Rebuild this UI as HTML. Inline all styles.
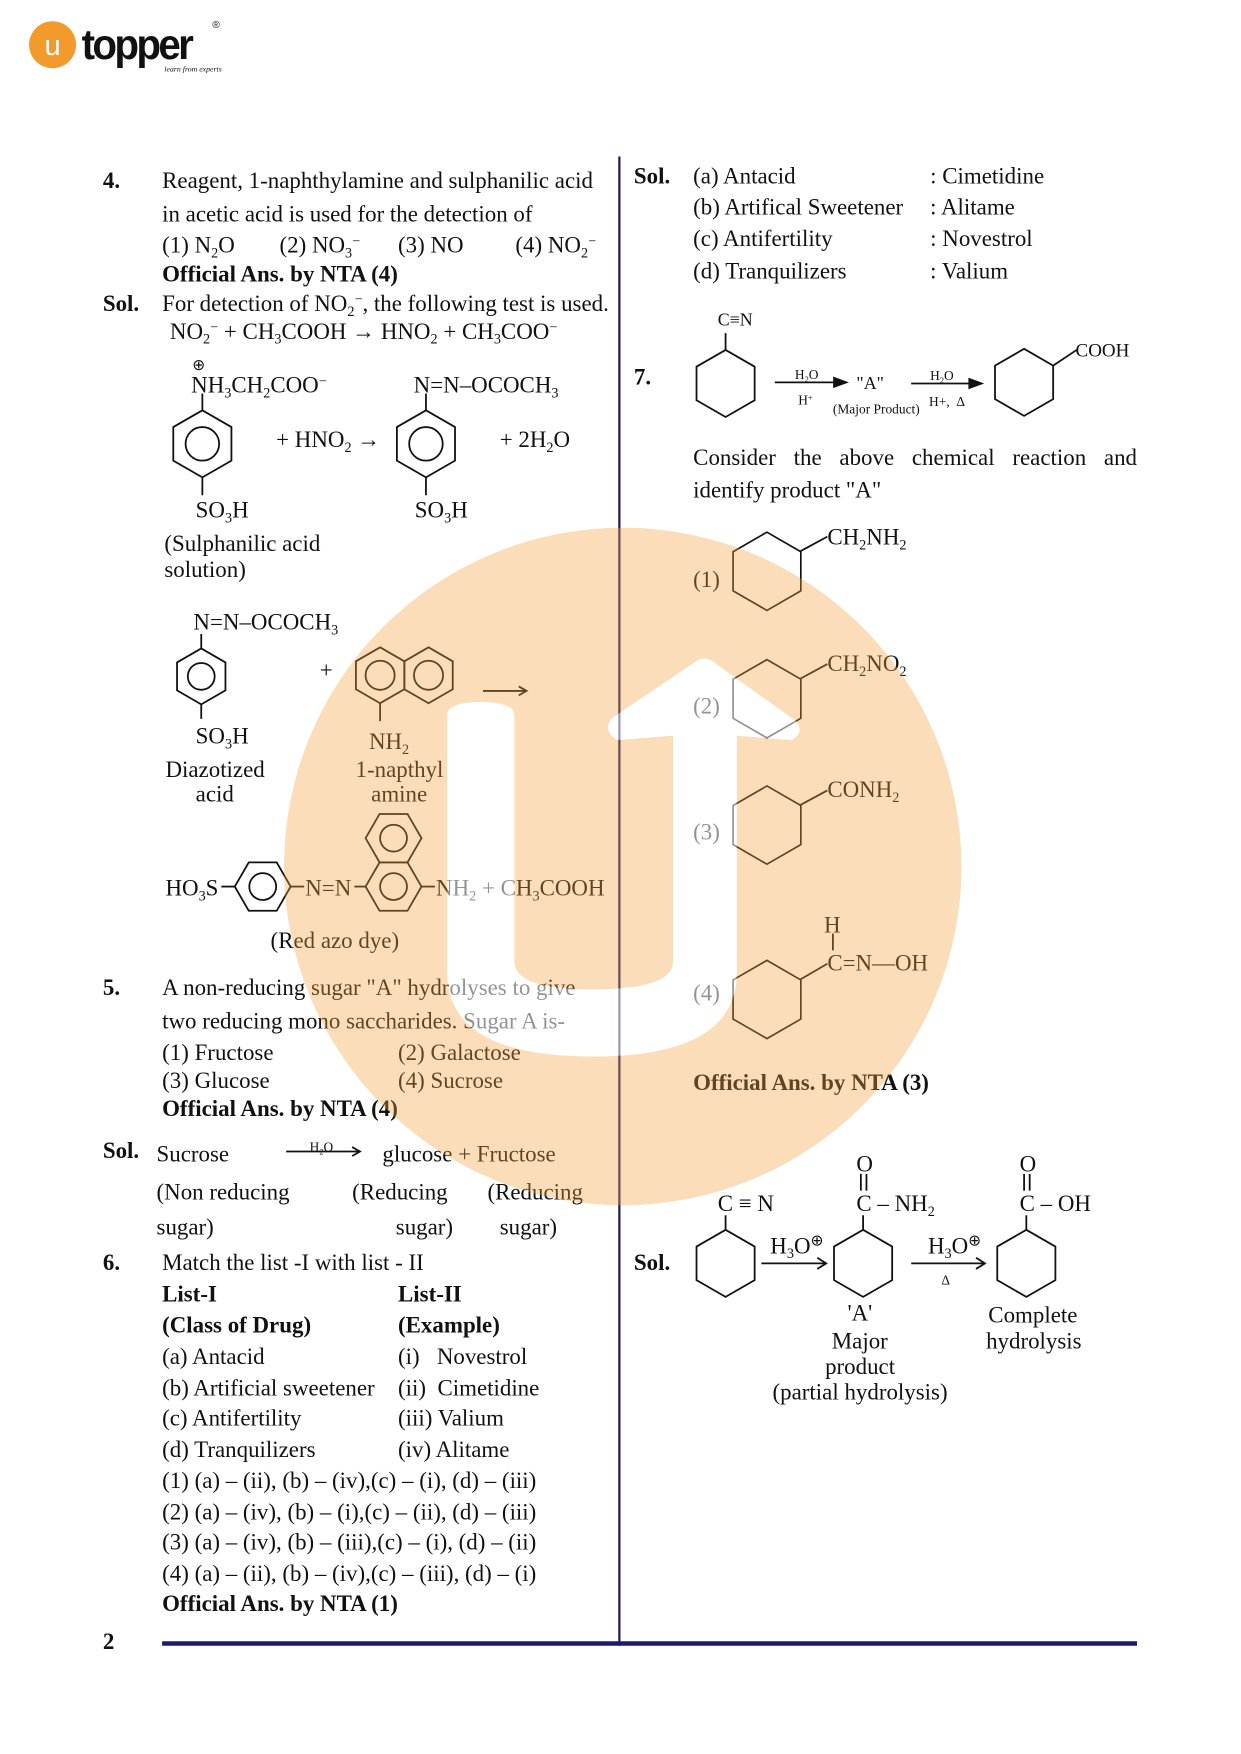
<!DOCTYPE html>
<html><head><meta charset="utf-8">
<style>
html,body{margin:0;padding:0;background:#fff;}
body{width:1241px;height:1754px;overflow:hidden;position:relative;}
#w{position:absolute;left:0;top:0;width:1110px;height:1569px;transform:scale(1.118);transform-origin:0 0;font-family:"Liberation Serif",serif;font-size:20.5px;color:#111;}
.t{position:absolute;white-space:nowrap;line-height:22px;margin-top:1px;}
.b{font-weight:bold;}
.s{font-size:12px;}
sub{font-size:0.62em;vertical-align:-0.35em;line-height:0;}
sup{font-size:0.62em;vertical-align:0.5em;line-height:0;}
svg{position:absolute;left:0;top:0;}
</style></head><body><div id="w">

<svg width="1110" height="1569" viewBox="0 0 1110 1569">
<defs>
<polygon id="hp" points="0,-30 26,-15 26,15 0,30 -26,15 -26,-15" fill="none" stroke="#111" stroke-width="1.6"/>
<polygon id="hs" points="0,-25 21.65,-12.5 21.65,12.5 0,25 -21.65,12.5 -21.65,-12.5" fill="none" stroke="#111" stroke-width="1.6"/>
<polygon id="hf" points="-25,0 -12.5,-21.65 12.5,-21.65 25,0 12.5,21.65 -12.5,21.65" fill="none" stroke="#111" stroke-width="1.6"/>
<polygon id="hb" points="0,-35 30.3,-17.5 30.3,17.5 0,35 -30.3,17.5 -30.3,-17.5" fill="none" stroke="#111" stroke-width="1.5"/>
</defs>
<g stroke="#111" stroke-width="1.6" fill="none">
<use href="#hp" x="181" y="397"/><circle cx="181" cy="397" r="15"/>
<line x1="181" y1="352" x2="181" y2="367"/><line x1="181" y1="427" x2="181" y2="443"/>
<use href="#hp" x="381" y="397"/><circle cx="381" cy="397" r="15"/>
<line x1="381" y1="352" x2="381" y2="367"/><line x1="381" y1="427" x2="381" y2="443"/>
<use href="#hs" x="180" y="605"/><circle cx="180" cy="605" r="12"/>
<line x1="180" y1="567" x2="180" y2="580"/><line x1="180" y1="630" x2="180" y2="643"/>
<use href="#hs" x="340" y="604"/><circle cx="340" cy="604" r="13"/>
<use href="#hs" x="383.3" y="604"/><circle cx="383.3" cy="604" r="13"/>
<line x1="340" y1="629" x2="340" y2="645"/>
<line x1="432" y1="618" x2="471" y2="618"/><path d="M464,614 L471,618 L464,622"/>
<use href="#hf" x="235" y="793"/><circle cx="235" cy="793" r="12"/>
<line x1="198" y1="793" x2="210" y2="793"/><line x1="260" y1="793" x2="272" y2="793"/>
<use href="#hf" x="352" y="793"/><circle cx="352" cy="793" r="12"/>
<use href="#hf" x="352" y="749.7"/><circle cx="352" cy="749.7" r="12"/>
<line x1="317" y1="793" x2="327" y2="793"/><line x1="377" y1="793" x2="389" y2="793"/>
<line x1="256" y1="1030" x2="322" y2="1030"/><path d="M315,1026 L322,1030 L315,1034"/>
<use href="#hp" x="649" y="343"/><line x1="649" y1="298" x2="649" y2="313"/>
<line x1="693" y1="342" x2="752" y2="342"/><path d="M746,338 L757,342 L746,346 Z" fill="#111"/>
<line x1="815" y1="343" x2="873" y2="343"/><path d="M867,339 L878,343 L867,347 Z" fill="#111"/>
<use href="#hp" x="916" y="342"/><line x1="942" y1="327" x2="963" y2="313"/>
<use href="#hb" x="686" y="511"/><line x1="716" y1="493" x2="740" y2="480"/>
<use href="#hb" x="686" y="625"/><line x1="716" y1="607" x2="740" y2="594"/>
<use href="#hb" x="686" y="738"/><line x1="716" y1="720" x2="740" y2="707"/>
<use href="#hb" x="686" y="894"/><line x1="716" y1="876" x2="740" y2="862"/>
<line x1="745" y1="835" x2="745" y2="850"/>
<use href="#hp" x="649" y="1130"/><line x1="649" y1="1087" x2="649" y2="1100"/>
<line x1="681" y1="1130" x2="739" y2="1130"/><path d="M731,1125 L739,1130 L731,1135"/>
<use href="#hp" x="772" y="1130"/><line x1="772" y1="1087" x2="772" y2="1100"/>
<line x1="770" y1="1050" x2="770" y2="1065"/><line x1="775" y1="1050" x2="775" y2="1065"/>
<line x1="815" y1="1130" x2="881" y2="1130"/><path d="M873,1125 L881,1130 L873,1135"/>
<use href="#hp" x="918" y="1130"/><line x1="918" y1="1087" x2="918" y2="1100"/>
<line x1="916" y1="1050" x2="916" y2="1065"/><line x1="921" y1="1050" x2="921" y2="1065"/>
</g>
<line x1="554" y1="140" x2="554" y2="1472" stroke="#1b1b5e" stroke-width="2"/>
<line x1="145" y1="1470" x2="1017" y2="1470" stroke="#1b1b6e" stroke-width="4"/>
<circle cx="47" cy="40" r="21" fill="#f39a2c"/>
<text x="47" y="49" font-family="Liberation Sans" font-size="26" fill="#fff" text-anchor="middle">u</text>
<text x="73" y="53" font-family="Liberation Sans" font-weight="bold" font-size="38" fill="#111" letter-spacing="-2.5" transform="translate(73,0) scale(0.95,1) translate(-73,0)">topper</text>
<text x="190" y="25" font-family="Liberation Sans" font-size="9" fill="#111">®</text>
<text x="147" y="64" font-family="Liberation Serif" font-style="italic" font-size="7" fill="#111">learn from experts</text>
</svg>

<div class="t b" style="left:92px;top:150px">4.</div>
<div class="t" style="left:145px;top:150px">Reagent, 1-naphthylamine and sulphanilic acid</div>
<div class="t" style="left:145px;top:180px">in acetic acid is used for the detection of</div>
<div class="t" style="left:145px;top:208px">(1) N<sub>2</sub>O</div>
<div class="t" style="left:250px;top:208px">(2) NO<sub>3</sub><sup>−</sup></div>
<div class="t" style="left:356px;top:208px">(3) NO</div>
<div class="t" style="left:461px;top:208px">(4) NO<sub>2</sub><sup>−</sup></div>
<div class="t b" style="left:145px;top:234px">Official Ans. by NTA (4)</div>
<div class="t b" style="left:92px;top:260px">Sol.</div>
<div class="t" style="left:145px;top:260px">For detection of NO<sub>2</sub><sup>−</sup>, the following test is used.</div>
<div class="t" style="left:152px;top:285px">NO<sub>2</sub><sup>−</sup> + CH<sub>3</sub>COOH → HNO<sub>2</sub> + CH<sub>3</sub>COO<sup>−</sup></div>
<div class="t" style="left:172px;top:316px;font-size:14px">⊕</div>
<div class="t" style="left:171px;top:333px">NH<sub>3</sub>CH<sub>2</sub>COO<sup>−</sup></div>
<div class="t" style="left:370px;top:333px">N=N–OCOCH<sub>3</sub></div>
<div class="t" style="left:247px;top:382px">+ HNO<sub>2</sub> →</div>
<div class="t" style="left:447px;top:382px">+ 2H<sub>2</sub>O</div>
<div class="t" style="left:175px;top:445px">SO<sub>3</sub>H</div>
<div class="t" style="left:371px;top:445px">SO<sub>3</sub>H</div>
<div class="t" style="left:147px;top:475px">(Sulphanilic acid</div>
<div class="t" style="left:147px;top:498px">solution)</div>
<div class="t" style="left:173px;top:545px">N=N–OCOCH<sub>3</sub></div>
<div class="t" style="left:286px;top:588px">+</div>
<div class="t" style="left:175px;top:647px">SO<sub>3</sub>H</div>
<div class="t" style="left:330px;top:652px">NH<sub>2</sub></div>
<div class="t" style="left:148px;top:677px">Diazotized</div>
<div class="t" style="left:175px;top:699px">acid</div>
<div class="t" style="left:318px;top:677px">1-napthyl</div>
<div class="t" style="left:332px;top:699px">amine</div>
<div class="t" style="left:148px;top:783px">HO<sub>3</sub>S</div>
<div class="t" style="left:273px;top:783px">N=N</div>
<div class="t" style="left:390px;top:783px">NH<sub>2</sub> + CH<sub>3</sub>COOH</div>
<div class="t" style="left:242px;top:830px">(Red azo dye)</div>
<div class="t b" style="left:92px;top:872px">5.</div>
<div class="t" style="left:145px;top:872px">A non-reducing sugar "A" hydrolyses to give</div>
<div class="t" style="left:145px;top:902px">two reducing mono saccharides. Sugar A is-</div>
<div class="t" style="left:145px;top:930px">(1) Fructose</div>
<div class="t" style="left:356px;top:930px">(2) Galactose</div>
<div class="t" style="left:145px;top:955px">(3) Glucose</div>
<div class="t" style="left:356px;top:955px">(4) Sucrose</div>
<div class="t b" style="left:145px;top:980px">Official Ans. by NTA (4)</div>
<div class="t b" style="left:92px;top:1018px">Sol.</div>
<div class="t" style="left:140px;top:1021px">Sucrose</div>
<div class="t s" style="left:277px;top:1014px">H<sub>2</sub>O</div>
<div class="t" style="left:342px;top:1021px">glucose + Fructose</div>
<div class="t" style="left:140px;top:1055px">(Non reducing</div>
<div class="t" style="left:315px;top:1055px">(Reducing</div>
<div class="t" style="left:436px;top:1055px">(Reducing</div>
<div class="t" style="left:140px;top:1086px">sugar)</div>
<div class="t" style="left:354px;top:1086px">sugar)</div>
<div class="t" style="left:447px;top:1086px">sugar)</div>
<div class="t b" style="left:92px;top:1118px">6.</div>
<div class="t" style="left:145px;top:1118px">Match the list -I with list - II</div>
<div class="t b" style="left:145px;top:1146px">List-I</div>
<div class="t b" style="left:356px;top:1146px">List-II</div>
<div class="t b" style="left:145px;top:1174px">(Class of Drug)</div>
<div class="t b" style="left:356px;top:1174px">(Example)</div>
<div class="t" style="left:145px;top:1202px">(a) Antacid</div>
<div class="t" style="left:356px;top:1202px">(i)&nbsp;&nbsp; Novestrol</div>
<div class="t" style="left:145px;top:1230px">(b) Artificial sweetener</div>
<div class="t" style="left:356px;top:1230px">(ii)&nbsp; Cimetidine</div>
<div class="t" style="left:145px;top:1257px">(c) Antifertility</div>
<div class="t" style="left:356px;top:1257px">(iii) Valium</div>
<div class="t" style="left:145px;top:1285px">(d) Tranquilizers</div>
<div class="t" style="left:356px;top:1285px">(iv) Alitame</div>
<div class="t" style="left:145px;top:1313px">(1) (a) – (ii), (b) – (iv),(c) – (i), (d) – (iii)</div>
<div class="t" style="left:145px;top:1341px">(2) (a) – (iv), (b) – (i),(c) – (ii), (d) – (iii)</div>
<div class="t" style="left:145px;top:1368px">(3) (a) – (iv), (b) – (iii),(c) – (i), (d) – (ii)</div>
<div class="t" style="left:145px;top:1396px">(4) (a) – (ii), (b) – (iv),(c) – (iii), (d) – (i)</div>
<div class="t b" style="left:145px;top:1423px">Official Ans. by NTA (1)</div>
<div class="t b" style="left:92px;top:1457px">2</div>

<div class="t b" style="left:567px;top:146px">Sol.</div>
<div class="t" style="left:620px;top:146px">(a) Antacid</div>
<div class="t" style="left:832px;top:146px">: Cimetidine</div>
<div class="t" style="left:620px;top:174px">(b) Artifical Sweetener</div>
<div class="t" style="left:832px;top:174px">: Alitame</div>
<div class="t" style="left:620px;top:202px">(c) Antifertility</div>
<div class="t" style="left:832px;top:202px">: Novestrol</div>
<div class="t" style="left:620px;top:231px">(d) Tranquilizers</div>
<div class="t" style="left:832px;top:231px">: Valium</div>
<div class="t" style="left:642px;top:275px;font-size:16px">C≡N</div>
<div class="t b" style="left:567px;top:326px">7.</div>
<div class="t s" style="left:711px;top:323px">H<sub>2</sub>O</div>
<div class="t s" style="left:714px;top:346px">H<sup>+</sup></div>
<div class="t" style="left:766px;top:332px;font-size:16px">"A"</div>
<div class="t s" style="left:745px;top:354px">(Major Product)</div>
<div class="t s" style="left:832px;top:324px">H<sub>2</sub>O</div>
<div class="t s" style="left:831px;top:347px">H+,&nbsp; Δ</div>
<div class="t" style="left:962px;top:302px;font-size:17px">COOH</div>
<div class="t" style="left:620px;top:398px;width:397px;white-space:normal;text-align:justify;text-align-last:justify">Consider the above chemical reaction and</div>
<div class="t" style="left:620px;top:427px">identify product "A"</div>
<div class="t" style="left:740px;top:469px">CH<sub>2</sub>NH<sub>2</sub></div>
<div class="t" style="left:620px;top:507px">(1)</div>
<div class="t" style="left:740px;top:582px">CH<sub>2</sub>NO<sub>2</sub></div>
<div class="t" style="left:620px;top:620px">(2)</div>
<div class="t" style="left:740px;top:695px">CONH<sub>2</sub></div>
<div class="t" style="left:620px;top:733px">(3)</div>
<div class="t" style="left:737px;top:816px">H</div>
<div class="t" style="left:740px;top:850px">C=N—OH</div>
<div class="t" style="left:620px;top:877px">(4)</div>
<div class="t b" style="left:620px;top:957px">Official Ans. by NTA (3)</div>
<div class="t b" style="left:567px;top:1118px">Sol.</div>
<div class="t" style="left:642px;top:1065px">C ≡ N</div>
<div class="t" style="left:689px;top:1103px">H<sub>3</sub>O<sup style="font-size:14px">⊕</sup></div>
<div class="t" style="left:766px;top:1030px">O</div>
<div class="t" style="left:766px;top:1065px">C – NH<sub>2</sub></div>
<div class="t" style="left:830px;top:1103px">H<sub>3</sub>O<sup style="font-size:14px">⊕</sup></div>
<div class="t s" style="left:842px;top:1133px">Δ</div>
<div class="t" style="left:912px;top:1030px">O</div>
<div class="t" style="left:912px;top:1065px">C – OH</div>
<div class="t" style="left:758px;top:1163px">'A'</div>
<div class="t" style="left:744px;top:1188px">Major</div>
<div class="t" style="left:738px;top:1211px">product</div>
<div class="t" style="left:691px;top:1234px">(partial hydrolysis)</div>
<div class="t" style="left:884px;top:1165px">Complete</div>
<div class="t" style="left:882px;top:1188px">hydrolysis</div>

<svg width="1110" height="1569" viewBox="0 0 1110 1569">
<defs><mask id="m"><rect width="1110" height="1569" fill="#fff"/>
<path d="M400,640 Q400,628 430,628 Q460,628 460,640 L460,860 Q460,885 530,885 Q602,885 602,860 L602,658 L552,662 Q538,652 548,642 L622,592 Q630,586 638,592 L712,645 Q720,655 708,662 L659,658 L659,870 Q659,945 530,945 Q400,945 400,870 Z" fill="#000"/></mask></defs>
<circle cx="557" cy="775" r="303" fill="#f5a040" fill-opacity="0.36" mask="url(#m)"/>
<path d="M400,640 Q400,628 430,628 Q460,628 460,640 L460,860 Q460,885 530,885 Q602,885 602,860 L602,658 L552,662 Q538,652 548,642 L622,592 Q630,586 638,592 L712,645 Q720,655 708,662 L659,658 L659,870 Q659,945 530,945 Q400,945 400,870 Z" fill="#fff" fill-opacity="0.55"/>
</svg>
</div></body></html>
